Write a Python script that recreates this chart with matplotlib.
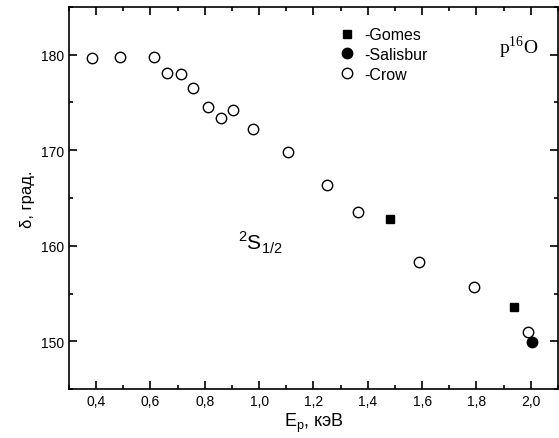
import matplotlib
matplotlib.use('Agg')
import matplotlib.pyplot as plt
from matplotlib.ticker import MultipleLocator, FuncFormatter

plt.rcParams['font.family'] = ['Liberation Sans', 'DejaVu Sans']

# Crow (open circles)
crow_e = [0.384, 0.487, 0.614, 0.662, 0.713, 0.758, 0.81, 0.86, 0.904, 0.977,
          1.105, 1.25, 1.365, 1.588, 1.79, 1.99]
crow_d = [179.65, 179.75, 179.75, 178.1, 178.0, 176.5, 174.5, 173.4, 174.2, 172.2,
          169.8, 166.35, 163.55, 158.3, 155.7, 151.0]
# Gomes (filled squares)
gomes_e = [1.481, 1.94]
gomes_d = [162.85, 153.55]
# Salisbur (filled circle)
salis_e = [2.005]
salis_d = [149.9]

fig = plt.figure(figsize=(5.59, 4.39), dpi=100)
ax = fig.add_axes([0.1234, 0.1116, 0.8746, 0.8702])

ax.plot(gomes_e, gomes_d, 's', color='black', ms=6, label='-Gomes')
ax.plot(salis_e, salis_d, 'o', color='black', ms=7.5, label='-Salisbur')
ax.plot(crow_e, crow_d, 'o', mfc='white', mec='black', mew=1, ms=7.5, label='-Crow')

ax.set_xlim(0.3, 2.1)
ax.set_ylim(145, 185)
ax.xaxis.set_major_locator(MultipleLocator(0.2))
ax.xaxis.set_minor_locator(MultipleLocator(0.1))
ax.yaxis.set_major_locator(MultipleLocator(10))
ax.yaxis.set_minor_locator(MultipleLocator(5))
ax.xaxis.set_major_formatter(FuncFormatter(lambda v, p: ('%.1f' % v).replace('.', ',')))
ax.tick_params(which='both', direction='in', top=True, right=True, labelsize=10, width=1.2)
ax.tick_params(which='major', length=6)
ax.tick_params(which='minor', length=3)
for s in ax.spines.values():
    s.set_linewidth(1.2)

ax.set_xlabel('E$_\\mathregular{p}$, кэВ', fontsize=13, labelpad=2)
ax.set_ylabel('δ, град.', fontsize=12, labelpad=4)

ax.legend(loc='upper left', bbox_to_anchor=(0.52, 0.985), frameon=False, fontsize=11.5,
          handletextpad=0.5, labelspacing=0.3, handlelength=1.2)

ax.text(0.88, 0.895, 'p$^{\\mathregular{16}}$O', transform=ax.transAxes, fontsize=14,
        family='Liberation Serif', ha='left', va='center')
ax.text(0.345, 0.385, '$^\\mathregular{2}$S$_\\mathregular{1/2}$', transform=ax.transAxes,
        fontsize=15, ha='left', va='center')

fig.savefig('out.png', dpi=100)
